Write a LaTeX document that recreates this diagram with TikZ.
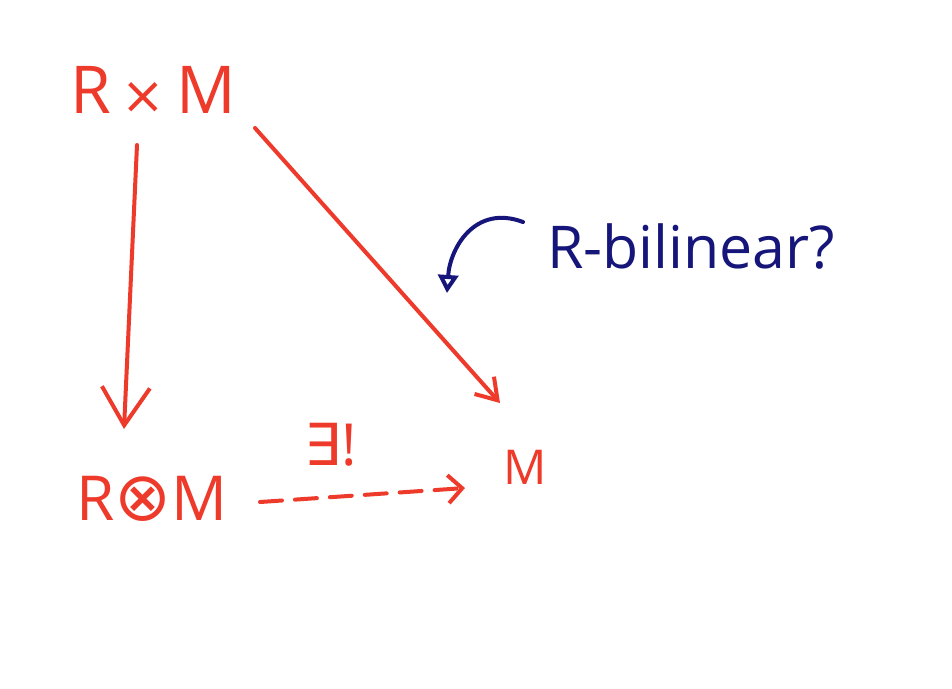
\documentclass[tikz,border=0pt]{standalone}
\usepackage{fontspec}
\setmainfont{Open Sans}
\newfontfamily\symfont{DejaVu Sans}
\usetikzlibrary{arrows.meta,calc}
\definecolor{hred}{RGB}{238,58,42}
\definecolor{hblue}{RGB}{22,22,122}
\tikzset{
  redtxt/.style={text=hred,inner sep=0pt,anchor=center},
  bluetxt/.style={text=hblue,inner sep=0pt,anchor=center},
  redline/.style={draw=hred,line width=4pt,line cap=round,line join=round},
  blueline/.style={draw=hblue,line width=4pt,line cap=round,line join=round}
}
\begin{document}
\begin{tikzpicture}[x=1pt,y=-1pt]
\useasboundingbox[fill=white] (0,0) rectangle (952,688);
\node[redtxt] (rxm) at (153,90) {\fontsize{66}{70}\selectfont R\,{\symfont\fontsize{52}{52}\selectfont×}\,M};
\node[redtxt] (rtm) at (152,499) {\fontsize{62}{66}\selectfont R{\symfont\fontsize{68}{68}\selectfont⊗}M};
\node[redtxt] (m) at (525,467) {\fontsize{48}{50}\selectfont M};
\node[redtxt] (ex) at (331,445) {\fontsize{58}{60}\selectfont{\symfont ∃}!};
\node[bluetxt] (bil) at (691,246) {\fontsize{59}{62}\selectfont R-bilinear?};
% arrows
\draw[redline,-{Straight Barb[length=38pt,width=48pt,line width=4pt]}]
  ($(rxm)+(-16,55)$) -- ($(rtm)+(-28,-70)$);
\draw[redline,-{Straight Barb[length=20pt,width=26pt,line width=4pt]}]
  ($(rxm)+(102,38)$) -- ($(m)+(-25,-64)$);
\draw[redline,dash pattern=on 22pt off 13pt,-{Straight Barb[length=14pt,width=28pt,line width=4pt]}]
  ($(rtm)+(108,3)$) -- ($(m)+(-60,21)$);
\draw[blueline,-{Triangle[open,length=18pt,width=20pt,line width=4pt]}]
  ($(bil)+(-168,-24)$) .. controls ($(bil)+(-216,-42)$) and ($(bil)+(-241,2)$) .. ($(bil)+(-244,47)$);
\end{tikzpicture}
\end{document}
